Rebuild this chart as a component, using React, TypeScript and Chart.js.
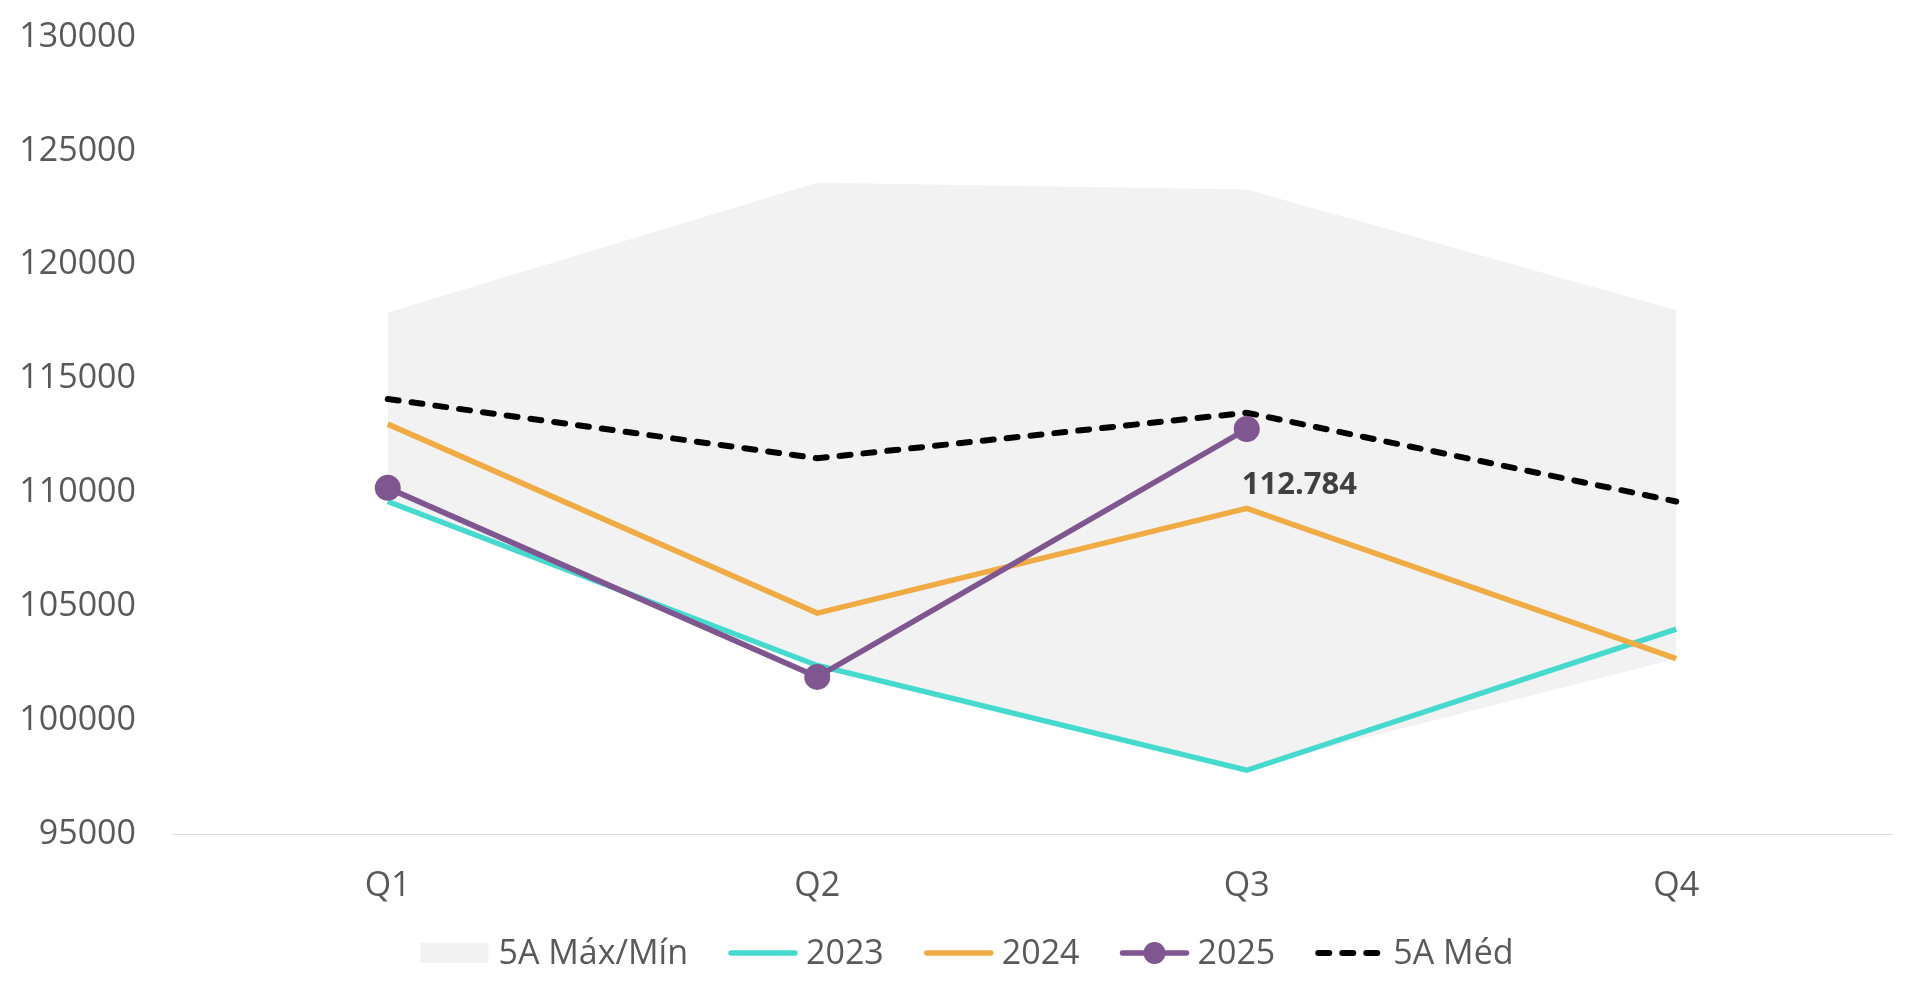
import React, { useEffect, useRef } from "react";
import { Chart, registerables } from "chart.js";

Chart.register(...registerables);

const categories = ["Q1", "Q2", "Q3", "Q4"];
const band5yMax = [117900, 123600, 123300, 118000];
const band5yMin = [109600, 102400, 97900, 102700];
const series2023 = [109600, 102400, 97800, 104000];
const series2024 = [113000, 104700, 109300, 102700];
const series2025: (number | null)[] = [110200, 101900, 112784, null];
const median5y = [114100, 111500, 113500, 109600];
const yMin = 95000;
const yMax = 130000;
const yStep = 5000;
const legendLabels = ["5A Máx/Mín", "2023", "2024", "2025", "5A Méd"];
const labelledIndex = 2;

const FONT = "'Open Sans', 'Noto Sans', sans-serif";
const C_BAND = "#F2F2F2";
const C_2023 = "#46DACF";
const C_2024 = "#F0AB45";
const C_2025 = "#7F5690";
const C_MED = "#000000";
const C_TEXT = "#595959";

function fmtPt(v: number): string {
  const s = Math.round(v).toString();
  return s.replace(/\B(?=(\d{3})+(?!\d))/g, ".");
}

const legendPlugin = {
  id: "customLegend",
  afterDraw(chart: any) {
    const ctx = chart.ctx as CanvasRenderingContext2D;
    ctx.save();
    ctx.font = `34px ${FONT}`;
    ctx.textBaseline = "middle";
    ctx.textAlign = "left";
    const symW = 70;
    const gapSym = 8;
    const gapItem = 40;
    const widths = legendLabels.map((t) => symW + gapSym + ctx.measureText(t).width);
    const total = widths.reduce((a, b) => a + b, 0) + gapItem * (widths.length - 1);
    let x = chart.width / 2 + 7 - total / 2;
    const y = 953;
    legendLabels.forEach((t, i) => {
      if (i === 0) {
        ctx.fillStyle = C_BAND;
        ctx.fillRect(x, y - 10, symW - 2, 20);
      } else {
        const col = i === 1 ? C_2023 : i === 2 ? C_2024 : i === 3 ? C_2025 : C_MED;
        ctx.strokeStyle = col;
        ctx.lineWidth = i === 4 ? 6 : 5.5;
        ctx.lineCap = "round";
        if (i === 4) ctx.setLineDash([11, 13]);
        else ctx.setLineDash([]);
        ctx.beginPath();
        ctx.moveTo(x + 3, y);
        ctx.lineTo(x + symW - 3, y);
        ctx.stroke();
        ctx.setLineDash([]);
        if (i === 3) {
          ctx.fillStyle = col;
          ctx.beginPath();
          ctx.arc(x + symW / 2, y, 11, 0, Math.PI * 2);
          ctx.fill();
        }
      }
      ctx.fillStyle = C_TEXT;
      ctx.fillText(t, x + symW + gapSym, y + 1);
      x += widths[i] + gapItem;
    });
    ctx.restore();
  },
};

const dataLabelPlugin = {
  id: "dataLabel",
  afterDatasetsDraw(chart: any) {
    const dsIndex = chart.data.datasets.findIndex((d: any) => d.label === "2025");
    const meta = chart.getDatasetMeta(dsIndex);
    const el = meta.data[labelledIndex];
    const v = series2025[labelledIndex];
    if (!el || v == null) return;
    const ctx = chart.ctx as CanvasRenderingContext2D;
    ctx.save();
    ctx.font = `bold 31px ${FONT}`;
    ctx.fillStyle = "#404040";
    ctx.textAlign = "left";
    ctx.textBaseline = "middle";
    ctx.fillText(fmtPt(v), el.x - 5, el.y + 56);
    ctx.restore();
  },
};

export default function App() {
  const ref = useRef<HTMLCanvasElement | null>(null);

  useEffect(() => {
    if (!ref.current) return;
    const chart = new Chart(ref.current, {
      type: "line",
      data: {
        labels: categories,
        datasets: [
          {
            label: "5A Méd",
            data: median5y,
            borderColor: C_MED,
            borderWidth: 6,
            borderDash: [11, 13],
            borderCapStyle: "round",
            pointRadius: 0,
            fill: false,
            tension: 0,
            order: 1,
          },
          {
            label: "2025",
            data: series2025,
            borderColor: C_2025,
            backgroundColor: C_2025,
            borderWidth: 5.5,
            pointRadius: 13,
            pointBorderWidth: 0,
            pointBackgroundColor: C_2025,
            pointBorderColor: C_2025,
            fill: false,
            tension: 0,
            order: 2,
          },
          {
            label: "2024",
            data: series2024,
            borderColor: C_2024,
            borderWidth: 5.5,
            pointRadius: 0,
            fill: false,
            tension: 0,
            order: 3,
          },
          {
            label: "2023",
            data: series2023,
            borderColor: C_2023,
            borderWidth: 5.5,
            pointRadius: 0,
            fill: false,
            tension: 0,
            order: 4,
          },
          {
            label: "5A Máx",
            data: band5yMax,
            borderWidth: 0,
            borderColor: "rgba(0,0,0,0)",
            backgroundColor: C_BAND,
            pointRadius: 0,
            fill: "+1",
            tension: 0,
            order: 5,
          },
          {
            label: "5A Mín",
            data: band5yMin,
            borderWidth: 0,
            borderColor: "rgba(0,0,0,0)",
            backgroundColor: C_BAND,
            pointRadius: 0,
            fill: false,
            tension: 0,
            order: 6,
          },
        ],
      },
      options: {
        animation: false,
        responsive: false,
        devicePixelRatio: 1,
        layout: { padding: { top: 37, right: 29, bottom: 0, left: 0 } },
        plugins: {
          legend: { display: false },
          tooltip: { enabled: false },
        },
        scales: {
          x: {
            offset: true,
            grid: { display: false, drawTicks: false },
            border: { display: true, color: "#D9D9D9", width: 1 },
            ticks: {
              padding: 32,
              color: C_TEXT,
              font: { family: FONT, size: 34 },
            },
            afterFit(scale: any) {
              scale.height = 998 - 834;
            },
          },
          y: {
            min: yMin,
            max: yMax,
            grid: { display: false, drawTicks: false },
            border: { display: false },
            ticks: {
              stepSize: yStep,
              padding: 37,
              color: C_TEXT,
              font: { family: FONT, size: 34 },
              callback: (v: any) => String(v),
            },
            afterFit(scale: any) {
              scale.width = 173;
              scale.paddingTop = 0;
              scale.paddingBottom = 0;
            },
          },
        },
      },
      plugins: [legendPlugin, dataLabelPlugin],
    } as any);
    return () => chart.destroy();
  }, []);

  return (
    <div
      style={{
        position: "fixed",
        left: 0,
        top: 0,
        width: 1920,
        height: 998,
        background: "#ffffff",
      }}
    >
      <canvas ref={ref} width={1920} height={998} style={{ width: 1920, height: 998, display: "block" }} />
    </div>
  );
}
